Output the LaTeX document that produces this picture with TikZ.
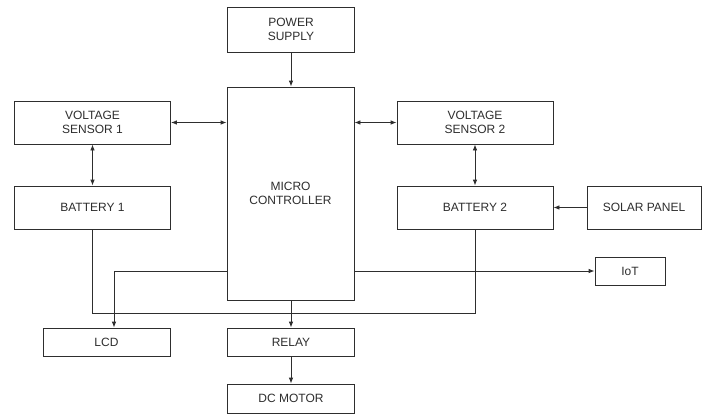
\documentclass[tikz,border=0pt]{standalone}
\usepackage{fontspec}
\setmainfont{Liberation Sans}
\usetikzlibrary{arrows.meta}
\definecolor{ink}{HTML}{2E2E2E}
\begin{document}
\begin{tikzpicture}[x=1pt,y=-1pt,
  box/.style={draw=ink, line width=0.8pt, text=ink, align=center, inner sep=0pt,
    font=\fontsize{12}{14}\selectfont},
  conn/.style={draw=ink, line width=0.8pt},
  tip/.style={-{Latex[length=6pt,width=4.5pt]}},
  tips/.style={{Latex[length=6pt,width=4.5pt]}-{Latex[length=6pt,width=4.5pt]}}]
\useasboundingbox[fill=white] (0,0) rectangle (706,415);
\node[box, minimum width=127pt, minimum height=45pt] (ps) at (291,29.5) {POWER\\SUPPLY};
\node[box, minimum width=127pt, minimum height=213pt] (mc) at (290.5,193.5) {MICRO\\CONTROLLER};
\node[box, minimum width=156pt, minimum height=43pt] (vs1) at (92.5,122.5) {VOLTAGE\\SENSOR 1};
\node[box, minimum width=156pt, minimum height=43pt] (b1) at (92.5,207.5) {BATTERY 1};
\node[box, minimum width=156pt, minimum height=43pt] (vs2) at (475,122.5) {VOLTAGE\\SENSOR 2};
\node[box, minimum width=156pt, minimum height=43pt] (b2) at (475,207.5) {BATTERY 2};
\node[box, minimum width=114pt, minimum height=43pt] (sp) at (644,207.5) {SOLAR PANEL};
\node[box, minimum width=70pt, minimum height=28pt] (iot) at (630,271) {IoT};
\node[box, minimum width=127pt, minimum height=28pt] (lcd) at (106.5,342) {LCD};
\node[box, minimum width=127pt, minimum height=28pt] (relay) at (291,342) {RELAY};
\node[box, minimum width=127pt, minimum height=29pt] (dc) at (291,398.5) {DC MOTOR};
\coordinate (bus) at (0,313);
\draw[conn,tip] (ps.south) -- (ps.south |- mc.north);
\draw[conn,tips] (vs1.east) -- (vs1.east -| mc.west);
\draw[conn,tips] (mc.east |- vs2.west) -- (vs2.west);
\draw[conn,tips] (vs1.south) -- (b1.north);
\draw[conn,tips] (vs2.south) -- (b2.north);
\draw[conn,tip] (sp.west) -- (b2.east);
\draw[conn] (b1.south) -- (b1.south |- bus) -| (b2.south);
\draw[conn,tip] (mc.east |- iot.west) -- (iot.west);
\draw[conn,tip] (mc.west |- iot.west) -| ([xshift=7.5pt]lcd.north);
\draw[conn,tip] (mc.south -| relay.north) -- (relay.north);
\draw[conn,tip] (relay.south) -- (dc.north);
\end{tikzpicture}
\end{document}
